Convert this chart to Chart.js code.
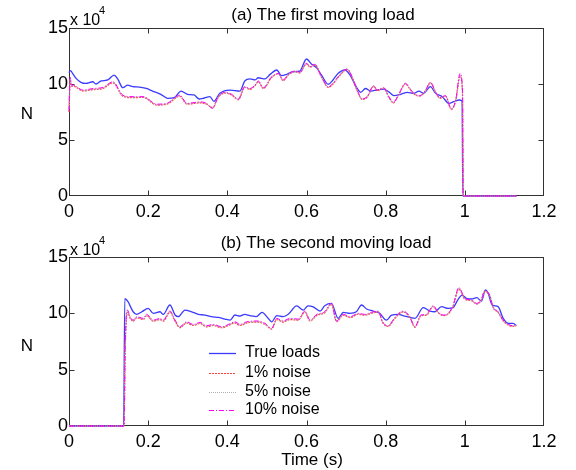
<!DOCTYPE html>
<html>
<head>
<meta charset="utf-8">
<script src="https://cdn.jsdelivr.net/npm/chart.js@4.4.0/dist/chart.umd.min.js"></script>
<style>
  html, body { margin: 0; padding: 0; background: #fff; }
  #wrap { position: relative; width: 576px; height: 470px; }
  .panel { position: absolute; left: 0; width: 576px; }
  #loadA { top: 0; height: 230px; }
  #loadB { top: 230px; height: 240px; }
</style>
</head>
<body>
<div id="wrap">
  <div class="panel" id="loadA"><canvas id="chartA"></canvas></div>
  <div class="panel" id="loadB"><canvas id="chartB"></canvas></div>
</div>
<script>
// first moving load (x 10^4 N)
const tA_true = [0, 0.004, 0.009, 0.018, 0.030, 0.043, 0.060, 0.068, 0.081, 0.098, 0.114, 0.123, 0.136, 0.148, 0.161, 0.178, 0.195, 0.211, 0.232, 0.249, 0.266, 0.283, 0.300, 0.316, 0.329, 0.342, 0.356, 0.366, 0.381, 0.407, 0.432, 0.444, 0.457, 0.470, 0.478, 0.495, 0.508, 0.525, 0.537, 0.550, 0.566, 0.583, 0.600, 0.613, 0.625, 0.638, 0.655, 0.667, 0.680, 0.697, 0.710, 0.728, 0.737, 0.749, 0.762, 0.778, 0.795, 0.808, 0.821, 0.838, 0.855, 0.871, 0.884, 0.896, 0.913, 0.926, 0.943, 0.960, 0.972, 0.985, 0.993, 0.995, 1.13];
const fA_true = [11.0, 11.2, 10.95, 10.5, 10.15, 10.05, 10.2, 10.0, 10.27, 10.36, 10.8, 10.45, 9.67, 9.9, 9.76, 9.73, 9.6, 9.37, 9.08, 8.72, 8.78, 9.37, 9.08, 9.02, 8.66, 8.75, 8.87, 8.45, 9.17, 9.46, 9.37, 10.27, 10.45, 10.36, 10.56, 10.45, 10.86, 11.25, 10.74, 10.86, 11.1, 11.16, 12.23, 11.76, 11.46, 10.8, 9.97, 10.36, 10.95, 11.25, 10.8, 9.6, 9.26, 9.6, 9.37, 9.46, 9.55, 9.3, 8.96, 9.08, 9.26, 9.17, 9.37, 9.17, 9.76, 9.17, 8.87, 8.27, 8.42, 8.57, 8.5, 0, 0];

const tA_noise = [0, 0.003, 0.006, 0.011, 0.035, 0.061, 0.086, 0.111, 0.136, 0.162, 0.187, 0.222, 0.247, 0.280, 0.298, 0.331, 0.346, 0.363, 0.377, 0.394, 0.411, 0.428, 0.444, 0.457, 0.470, 0.478, 0.491, 0.512, 0.529, 0.541, 0.554, 0.571, 0.583, 0.600, 0.609, 0.621, 0.638, 0.655, 0.667, 0.680, 0.703, 0.715, 0.728, 0.741, 0.753, 0.770, 0.778, 0.795, 0.808, 0.819, 0.833, 0.850, 0.861, 0.871, 0.886, 0.901, 0.913, 0.926, 0.937, 0.951, 0.966, 0.977, 0.988, 0.994, 0.996, 1.13];
const fA_noise1 = [7.5, 10.4, 9.8, 9.8, 9.38, 9.5, 9.6, 10.1, 8.92, 8.78, 8.8, 8.12, 8.2, 8.9, 8.2, 8.32, 8.22, 7.9, 8.8, 9.2, 9.0, 8.6, 9.7, 9.52, 9.85, 10.2, 9.6, 10.58, 10.9, 10.3, 10.8, 11.1, 11.0, 11.8, 11.5, 11.7, 10.6, 9.7, 10.0, 10.6, 11.3, 10.6, 9.4, 8.62, 8.82, 9.8, 9.4, 9.62, 8.82, 8.32, 9.04, 10.0, 9.56, 9.12, 8.92, 9.4, 10.1, 9.26, 8.74, 8.92, 7.72, 8.52, 10.7, 9.3, 0, 0];
const fA_noise5 = [7.8, 10.5, 9.86, 9.86, 9.42, 9.55, 9.66, 10.16, 8.96, 8.83, 8.84, 8.16, 8.24, 8.95, 8.24, 8.36, 8.26, 7.86, 8.84, 9.23, 9.04, 8.63, 9.73, 9.56, 9.88, 10.24, 9.64, 10.62, 10.92, 10.33, 10.83, 11.13, 11.02, 11.82, 11.52, 11.73, 10.62, 9.73, 10.03, 10.62, 11.32, 10.62, 9.43, 8.64, 8.85, 9.82, 9.43, 9.64, 8.85, 8.34, 9.06, 10.03, 9.58, 9.15, 8.94, 9.43, 10.12, 9.28, 8.76, 8.94, 7.75, 8.55, 10.8, 9.4, 0, 0];
const fA_noise10 = [7.6, 10.6, 9.9, 9.9, 9.46, 9.6, 9.7, 10.2, 9.0, 8.87, 8.87, 8.2, 8.27, 9.0, 8.27, 8.4, 8.3, 7.83, 8.87, 9.26, 9.08, 8.66, 9.76, 9.6, 9.9, 10.27, 9.67, 10.65, 10.95, 10.36, 10.86, 11.16, 11.04, 11.85, 11.55, 11.76, 10.65, 9.76, 10.06, 10.65, 11.34, 10.65, 9.46, 8.66, 8.87, 9.85, 9.46, 9.67, 8.87, 8.36, 9.08, 10.06, 9.6, 9.17, 8.96, 9.46, 10.15, 9.3, 8.78, 8.96, 7.77, 8.57, 10.95, 9.46, 0, 0];

// second moving load
const tB_true = [0, 0.138, 0.141, 0.149, 0.162, 0.171, 0.184, 0.200, 0.213, 0.230, 0.238, 0.255, 0.268, 0.276, 0.293, 0.310, 0.327, 0.343, 0.360, 0.377, 0.394, 0.407, 0.419, 0.432, 0.444, 0.457, 0.473, 0.488, 0.502, 0.512, 0.525, 0.541, 0.554, 0.575, 0.592, 0.604, 0.617, 0.634, 0.646, 0.663, 0.680, 0.693, 0.710, 0.726, 0.739, 0.752, 0.768, 0.785, 0.802, 0.815, 0.832, 0.848, 0.874, 0.895, 0.912, 0.924, 0.941, 0.958, 0.970, 0.982, 0.993, 1.004, 1.017, 1.030, 1.042, 1.052, 1.059, 1.069, 1.084, 1.097, 1.110, 1.122, 1.130];
const fB_true = [0, 0, 11.3, 11.03, 10.14, 9.91, 10.14, 10.44, 10.0, 10.14, 9.91, 10.74, 9.85, 9.7, 10.29, 10.14, 9.91, 9.85, 9.7, 9.64, 9.49, 9.4, 9.85, 9.76, 9.91, 9.8, 9.7, 10.09, 9.61, 9.25, 9.79, 9.7, 9.91, 10.67, 10.29, 10.67, 10.58, 10.2, 10.67, 10.88, 9.55, 10.09, 10.0, 10.14, 10.74, 10.38, 10.2, 10.0, 9.4, 9.85, 9.91, 9.76, 9.55, 10.5, 10.2, 10.14, 10.59, 10.44, 10.5, 11.18, 11.62, 11.33, 11.27, 11.39, 11.09, 12.07, 11.77, 10.74, 10.59, 9.55, 9.11, 9.11, 8.9];

const tB_noise = [0, 0.139, 0.142, 0.148, 0.154, 0.162, 0.171, 0.188, 0.196, 0.213, 0.230, 0.238, 0.255, 0.268, 0.280, 0.297, 0.314, 0.331, 0.348, 0.364, 0.386, 0.402, 0.419, 0.432, 0.449, 0.457, 0.478, 0.495, 0.512, 0.525, 0.541, 0.558, 0.579, 0.596, 0.609, 0.626, 0.646, 0.663, 0.676, 0.693, 0.710, 0.731, 0.747, 0.764, 0.781, 0.793, 0.806, 0.823, 0.844, 0.861, 0.874, 0.889, 0.903, 0.920, 0.932, 0.945, 0.958, 0.970, 0.985, 1.000, 1.017, 1.030, 1.042, 1.050, 1.063, 1.071, 1.084, 1.097, 1.110, 1.122, 1.130];
const fB_noise1 = [0, 0, 6.8, 10.1, 9.6, 9.3, 9.6, 9.45, 9.8, 9.3, 9.45, 9.3, 10.1, 9.3, 8.72, 9.15, 8.92, 9.1, 8.8, 8.92, 8.72, 8.9, 9.15, 8.92, 9.15, 9.2, 9.22, 9.02, 8.6, 9.45, 9.22, 9.45, 9.4, 10.1, 9.32, 9.82, 10.06, 10.8, 9.26, 9.84, 9.62, 9.92, 9.84, 10.0, 10.12, 9.14, 8.84, 9.54, 10.12, 9.64, 8.76, 9.78, 9.84, 10.6, 10.08, 9.8, 9.94, 10.6, 12.15, 11.26, 11.12, 10.82, 11.2, 11.92, 11.56, 10.54, 10.08, 9.34, 8.96, 8.84, 8.9];
const fB_noise5 = [0, 0, 7.0, 10.2, 9.65, 9.35, 9.65, 9.5, 9.86, 9.35, 9.5, 9.35, 10.15, 9.35, 8.76, 9.2, 8.97, 9.15, 8.85, 8.97, 8.76, 8.95, 9.2, 8.97, 9.2, 9.25, 9.27, 9.06, 8.63, 9.5, 9.27, 9.5, 9.44, 10.15, 9.36, 9.86, 10.1, 10.84, 9.29, 9.87, 9.66, 9.96, 9.87, 10.04, 10.16, 9.17, 8.87, 9.57, 10.16, 9.67, 8.78, 9.81, 9.87, 10.63, 10.11, 9.82, 9.97, 10.63, 12.22, 11.3, 11.15, 10.85, 11.23, 11.96, 11.59, 10.56, 10.11, 9.37, 8.99, 8.87, 8.93];
const fB_noise10 = [0, 0, 7.2, 10.29, 9.7, 9.4, 9.7, 9.55, 9.91, 9.4, 9.55, 9.4, 10.2, 9.4, 8.81, 9.25, 9.02, 9.2, 8.9, 9.02, 8.81, 9.0, 9.25, 9.02, 9.25, 9.3, 9.32, 9.11, 8.67, 9.55, 9.32, 9.55, 9.49, 10.2, 9.4, 9.91, 10.14, 10.88, 9.32, 9.91, 9.7, 10.0, 9.91, 10.09, 10.2, 9.2, 8.9, 9.61, 10.2, 9.7, 8.81, 9.85, 9.91, 10.67, 10.14, 9.85, 10.0, 10.67, 12.3, 11.33, 11.18, 10.88, 11.27, 12.0, 11.62, 10.59, 10.14, 9.4, 9.02, 8.9, 8.96];

const xTicks = [0, 0.2, 0.4, 0.6, 0.8, 1, 1.2];
const yTicks = [0, 5, 10, 15];
const seriesNames = ['True loads', '1% noise', '5% noise', '10% noise'];

const FONT = '"Liberation Sans", Arial, sans-serif';

const styles = [
    { color: '#3b3bff', width: 1.3, dash: [] },
    { color: '#ff4040', width: 1.2, dash: [2, 1] },
    { color: '#b0b0b0', width: 1.2, dash: [1, 1] },
    { color: '#ff00ff', width: 1, dash: [5, 2, 1, 2] }
];

function zip(ts, vs) {
    return ts.map((t, i) => ({ x: t, y: vs[i] }));
}

function line(idx, pts) {
    const s = styles[idx];
    return {
        label: seriesNames[idx],
        data: pts,
        borderColor: s.color,
        borderWidth: s.width,
        borderDash: s.dash,
        pointRadius: 0,
        fill: false,
        clip: 4,
        cubicInterpolationMode: 'monotone'
    };
}

// box and inward ticks go under the curves, texts and legend on top
const matlabFrame = {
    id: 'matlabFrame',
    beforeDatasetsDraw(chart) {
        const { ctx, chartArea: a, scales } = chart;
        const L = Math.round(a.left) + 0.5, R = Math.round(a.right) - 0.5;
        const T = Math.round(a.top) + 0.5, B = Math.round(a.bottom) - 0.5;
        ctx.save();
        ctx.strokeStyle = '#333';
        ctx.lineWidth = 1;
        ctx.setLineDash([]);
        ctx.strokeRect(L, T, R - L, B - T);

        ctx.beginPath();
        xTicks.slice(1, -1).forEach((v) => {
            const px = Math.round(scales.x.getPixelForValue(v)) + 0.5;
            ctx.moveTo(px, B); ctx.lineTo(px, B - 5);
            ctx.moveTo(px, T); ctx.lineTo(px, T + 5);
        });
        yTicks.slice(1, -1).forEach((v) => {
            const py = Math.round(scales.y.getPixelForValue(v)) + 0.5;
            ctx.moveTo(L, py); ctx.lineTo(L + 5, py);
            ctx.moveTo(R, py); ctx.lineTo(R - 5, py);
        });
        ctx.stroke();
        ctx.restore();
    },
    afterDraw(chart, args, opts) {
        const { ctx } = chart;
        ctx.save();
        ctx.fillStyle = '#000';
        ctx.textBaseline = 'middle';
        ctx.textAlign = 'center';
        ctx.font = '17px ' + FONT;
        ctx.fillText(opts.title, opts.titleX, opts.titleY);

        ctx.font = '17px ' + FONT;
        ctx.fillText('N', 27, opts.nY);

        ctx.textAlign = 'left';
        ctx.textBaseline = 'alphabetic';
        ctx.font = '16px ' + FONT;
        ctx.fillText('x 10', 70, 25);
        ctx.font = '11px ' + FONT;
        ctx.fillText('4', 99, 14);

        if (opts.xTitle) {
            ctx.textAlign = 'center';
            ctx.textBaseline = 'middle';
            ctx.font = '17px ' + FONT;
            ctx.fillText(opts.xTitle, 312, opts.xTitleY);
        }

        if (opts.legend) {
            const rows = [123, 143, 162, 180];
            ctx.font = '16px ' + FONT;
            ctx.textAlign = 'left';
            ctx.textBaseline = 'middle';
            seriesNames.forEach((name, i) => {
                const s = styles[i];
                ctx.save();
                ctx.strokeStyle = s.color;
                ctx.lineWidth = s.width;
                ctx.setLineDash(s.dash);
                ctx.beginPath();
                ctx.moveTo(209, rows[i] + 0.5);
                ctx.lineTo(236, rows[i] + 0.5);
                ctx.stroke();
                ctx.restore();
                ctx.fillText(name, 245, rows[i]);
            });
        }
        ctx.restore();
    }
};

function options(padTop, axisHeight, frameOpts) {
    return {
        responsive: true,
        maintainAspectRatio: false,
        animation: false,
        layout: { padding: { top: padTop, right: 32, left: 0, bottom: 0 } },
        plugins: {
            legend: { display: false },
            tooltip: { enabled: false },
            matlabFrame: frameOpts
        },
        scales: {
            x: {
                type: 'linear',
                min: 0,
                max: 1.2,
                afterBuildTicks: (scale) => { scale.ticks = xTicks.map((v) => ({ value: v })); },
                afterFit: (scale) => { scale.height = axisHeight; },
                ticks: {
                    color: '#000',
                    font: { family: FONT, size: 18 },
                    padding: 5,
                    maxRotation: 0,
                    autoSkip: false,
                    callback: (v) => String(Math.round(v * 10) / 10)
                },
                grid: { display: false, drawTicks: false },
                border: { display: false }
            },
            y: {
                min: 0,
                max: 15,
                afterBuildTicks: (scale) => { scale.ticks = yTicks.map((v) => ({ value: v })); },
                afterFit: (scale) => { scale.width = 69; },
                ticks: {
                    color: '#000',
                    font: { family: FONT, size: 18 },
                    padding: 1
                },
                grid: { display: false, drawTicks: false },
                border: { display: false }
            }
        }
    };
}

// the first dataset is drawn last, so the 10% curve sits on top
new Chart(document.getElementById('chartA'), {
    type: 'line',
    data: {
        datasets: [
            line(3, zip(tA_noise, fA_noise10)),
            line(2, zip(tA_noise, fA_noise5)),
            line(1, zip(tA_noise, fA_noise1)),
            line(0, zip(tA_true, fA_true))
        ]
    },
    options: options(28, 34, {
        title: '(a) The first moving load', titleX: 323, titleY: 15, nY: 114
    }),
    plugins: [matlabFrame]
});

new Chart(document.getElementById('chartB'), {
    type: 'line',
    data: {
        datasets: [
            line(3, zip(tB_noise, fB_noise10)),
            line(2, zip(tB_noise, fB_noise5)),
            line(1, zip(tB_noise, fB_noise1)),
            line(0, zip(tB_true, fB_true))
        ]
    },
    options: options(27, 44, {
        title: '(b) The second moving load', titleX: 326, titleY: 13, nY: 116,
        xTitle: 'Time (s)', xTitleY: 230, legend: true
    }),
    plugins: [matlabFrame]
});
</script>
</body>
</html>
